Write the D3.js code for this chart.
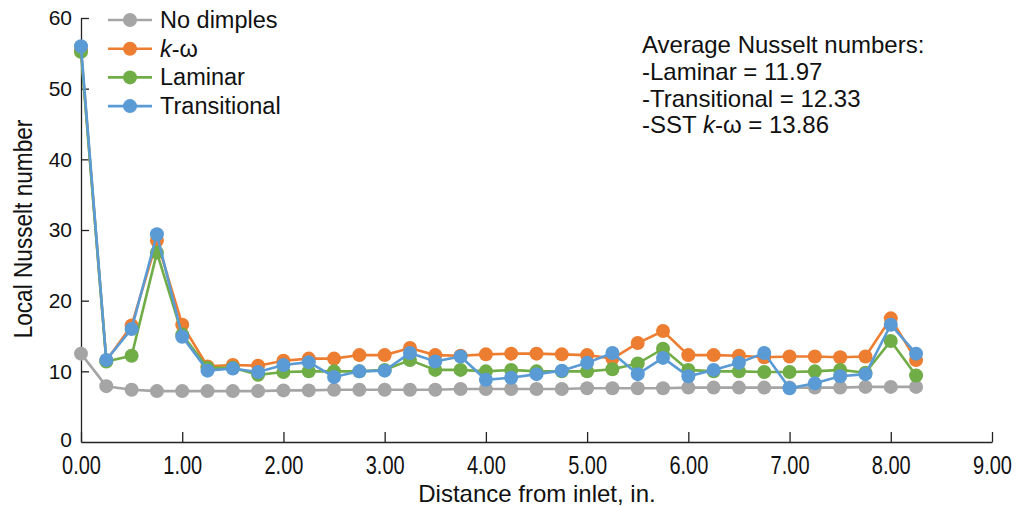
<!DOCTYPE html>
<html lang="en">
<head>
<meta charset="UTF-8">
<title>Local Nusselt number</title>
<script src="https://cdn.jsdelivr.net/npm/d3@7"></script>
<style>
    body { margin: 0; background: #fff; }
    text { font-family: Arial, "Liberation Sans", sans-serif; fill: #111; }
    .axis path, .axis line { stroke: #222; stroke-width: 1.3; }
</style>
</head>
<body>
<svg width="1021" height="506"></svg>
<script>
// distance from inlet (in.)
const distance = [0.00, 0.25, 0.50, 0.75, 1.00, 1.25, 1.50, 1.75, 2.00, 2.25, 2.50, 2.75,
                  3.00, 3.25, 3.50, 3.75, 4.00, 4.25, 4.50, 4.75, 5.00, 5.25, 5.50, 5.75,
                  6.00, 6.25, 6.50, 6.75, 7.00, 7.25, 7.50, 7.75, 8.00, 8.25];

const noDimples = [12.5, 7.9, 7.4, 7.2, 7.2, 7.2, 7.2, 7.2, 7.3, 7.3, 7.4, 7.4,
                   7.4, 7.4, 7.4, 7.5, 7.5, 7.5, 7.5, 7.5, 7.6, 7.6, 7.6, 7.6,
                   7.7, 7.7, 7.7, 7.7, 7.7, 7.7, 7.7, 7.8, 7.8, 7.8];
const kOmega = [55.5, 11.5, 16.5, 28.5, 16.6, 10.7, 10.9, 10.8, 11.5, 11.8, 11.8, 12.3,
                12.3, 13.3, 12.3, 12.2, 12.4, 12.5, 12.5, 12.4, 12.3, 11.8, 14.0, 15.7,
                12.3, 12.3, 12.2, 12.0, 12.1, 12.1, 12.0, 12.1, 17.5, 11.6];
const laminar = [55.2, 11.4, 12.2, 26.8, 15.2, 10.5, 10.5, 9.5, 9.9, 10.0, 10.0, 10.0,
                 10.2, 11.6, 10.2, 10.2, 10.0, 10.2, 10.0, 10.0, 10.0, 10.3, 11.1, 13.2,
                 10.2, 10.0, 10.0, 9.9, 9.9, 10.0, 10.2, 9.8, 14.3, 9.4];
const transitional = [56.0, 11.6, 16.0, 29.4, 14.9, 10.1, 10.4, 9.9, 10.9, 11.3, 9.2, 10.0,
                      10.1, 12.6, 11.4, 12.1, 8.8, 9.1, 9.6, 10.1, 11.2, 12.6, 9.6, 11.9,
                      9.3, 10.2, 11.2, 12.6, 7.6, 8.3, 9.3, 9.6, 16.6, 12.5];

const seriesNames = ["No dimples", "k-ω", "Laminar", "Transitional"];
const seriesColors = ["#a5a5a5", "#ed7d31", "#70ad47", "#5b9bd5"];
const seriesValues = [noDimples, kOmega, laminar, transitional];

const xTicks = [0, 1, 2, 3, 4, 5, 6, 7, 8, 9];
const yTicks = [0, 10, 20, 30, 40, 50, 60];

const noteLines = ["Average Nusselt numbers:", "-Laminar = 11.97", "-Transitional = 12.33", "-SST k-ω = 13.86"];

const svg = d3.select("svg");
const plotLeft = 81, plotRight = 992, plotTop = 18, plotBottom = 442;

const x = d3.scaleLinear().domain([0, 9]).range([plotLeft, plotRight]);
const y = d3.scaleLinear().domain([0, 60]).range([plotBottom, plotTop]);

// axes
const xAxis = svg.append("g").attr("class", "axis")
    .attr("transform", `translate(0,${plotBottom})`)
    .call(d3.axisBottom(x).tickValues(xTicks).tickSizeInner(-10).tickSizeOuter(0).tickFormat(d3.format(".2f")));
// condensed look of the original tick labels
xAxis.selectAll("text").attr("y", 14).attr("transform", "scale(0.8,1)").style("font-size", "25px");

const yAxis = svg.append("g").attr("class", "axis")
    .attr("transform", `translate(${plotLeft},0)`)
    .call(d3.axisLeft(y).tickValues(yTicks).tickSizeInner(-8).tickSizeOuter(0));
yAxis.selectAll("text").attr("x", -9).style("font-size", "21px");
yAxis.selectAll(".tick").filter(d => d === 0).select("text").attr("dy", "0.2em");
yAxis.selectAll(".tick").filter(d => d === 0).select("line").remove();

// axis titles
svg.append("text")
    .attr("x", 537).attr("y", 502).attr("text-anchor", "middle")
    .style("font-size", "24px").text("Distance from inlet, in.");
svg.append("text")
    .attr("transform", "translate(32,229) rotate(-90) scale(0.87,1)").attr("text-anchor", "middle")
    .style("font-size", "26px").text("Local Nusselt number");

// series
const line = d3.line().x((d, i) => x(distance[i])).y(d => y(d));
seriesValues.forEach((vals, s) => {
    const g = svg.append("g");
    g.append("path").datum(vals)
        .attr("d", line).attr("fill", "none")
        .attr("stroke", seriesColors[s]).attr("stroke-width", 2.6);
    g.selectAll("circle").data(vals).join("circle")
        .attr("cx", (d, i) => x(distance[i])).attr("cy", d => y(d))
        .attr("r", 7).attr("fill", seriesColors[s]);
});

// legend
const legend = svg.append("g");
seriesNames.forEach((name, i) => {
    const ly = 20 + i * 28.7;
    legend.append("line").attr("x1", 108).attr("x2", 152).attr("y1", ly).attr("y2", ly)
        .attr("stroke", seriesColors[i]).attr("stroke-width", 2.6);
    legend.append("circle").attr("cx", 130).attr("cy", ly).attr("r", 7).attr("fill", seriesColors[i]);
    const t = legend.append("text").attr("x", 160).attr("y", ly + 8).style("font-size", "23.5px");
    if (name.startsWith("k-")) {
        t.append("tspan").attr("font-style", "italic").text("k");
        t.append("tspan").text(name.slice(1));
    } else {
        t.text(name);
    }
});

// annotation
noteLines.forEach((s, i) => {
    const t = svg.append("text").attr("x", 642).attr("y", 53 + i * 26.8).style("font-size", "24px");
    const k = s.indexOf("k-");
    if (k >= 0) {
        t.append("tspan").text(s.slice(0, k));
        t.append("tspan").attr("font-style", "italic").text("k");
        t.append("tspan").text(s.slice(k + 1));
    } else {
        t.text(s);
    }
});
</script>
</body>
</html>
